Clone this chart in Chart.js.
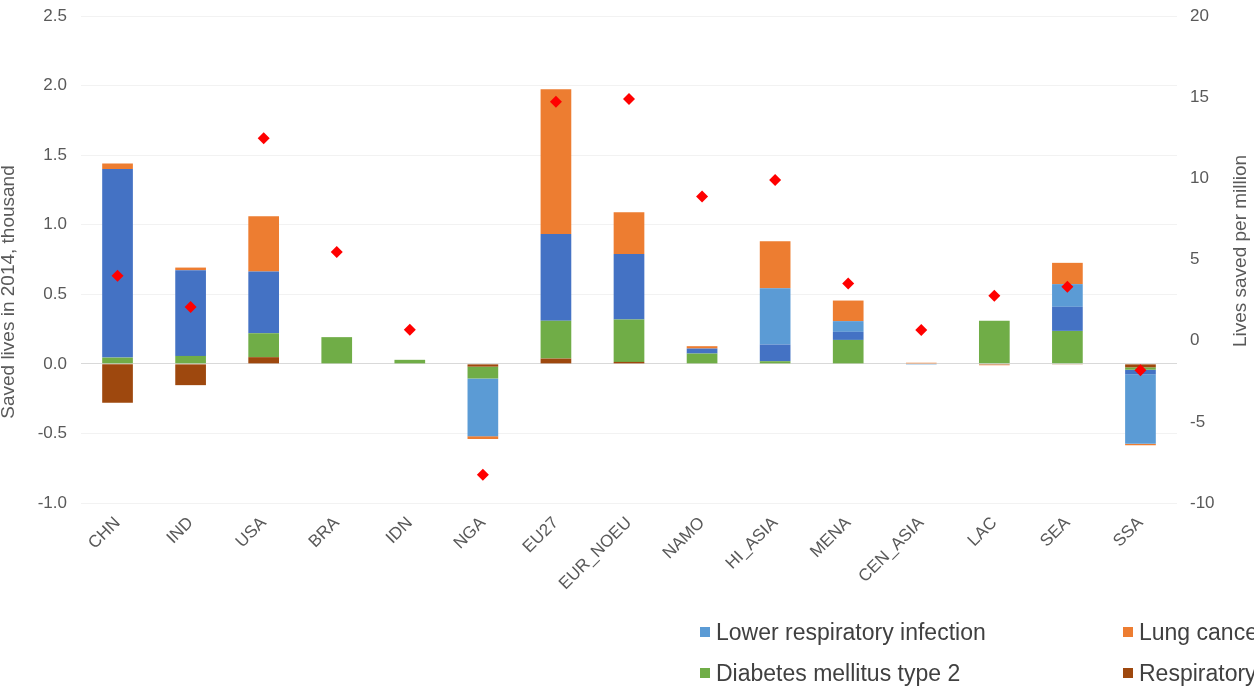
<!DOCTYPE html>
<html>
<head>
<meta charset="utf-8">
<script src="https://cdn.jsdelivr.net/npm/chart.js@4.4.1/dist/chart.umd.min.js"></script>
<style>
  html, body { margin: 0; padding: 0; background: #ffffff; overflow: hidden; }
  #wrap { position: relative; width: 1254px; height: 688px; overflow: hidden; }
  #legend { position: absolute; left: 0; top: 0; width: 1254px; height: 688px; pointer-events: none; }
  .item { position: absolute; display: flex; align-items: center; white-space: nowrap;
          font-family: "Liberation Sans", Arial, sans-serif; font-size: 23px; color: #404040; }
  .swatch { width: 10px; height: 10px; margin-right: 6px; flex: none; }
</style>
</head>
<body>
<div id="wrap">
  <canvas id="chart" width="1254" height="688"></canvas>
  <div id="legend"></div>
</div>
<script>
// Regions
const regions = ['CHN', 'IND', 'USA', 'BRA', 'IDN', 'NGA', 'EU27', 'EUR_NOEU', 'NAMO',
                 'HI_ASIA', 'MENA', 'CEN_ASIA', 'LAC', 'SEA', 'SSA'];

// Saved lives in 2014 by cause, thousand
const respiratory = [-0.28, -0.153, 0.048, 0, 0, -0.02, 0.038, 0.014, 0, 0, 0, 0, -0.006, -0.005, -0.025];
const diabetes    = [0.045, 0.057, 0.172, 0.192, 0.029, -0.085, 0.271, 0.304, 0.074, 0.019, 0.172, 0, 0.309, 0.237, -0.017];
const cardio      = [1.355, 0.616, 0.443, 0, 0, 0, 0.625, 0.472, 0.036, 0.12, 0.058, 0, 0, 0.173, -0.033];
const lowerResp   = [0, 0, 0, 0, 0, -0.415, 0, 0, 0, 0.405, 0.077, -0.006, 0, 0.163, -0.50];
const lungCancer  = [0.04, 0.019, 0.398, 0, 0, -0.02, 1.039, 0.30, 0.017, 0.337, 0.148, 0.008, -0.004, 0.153, -0.01];

// Lives saved per million inhabitants
const perMillion  = [4.0, 2.07, 12.47, 5.46, 0.67, -8.26, 14.71, 14.88, 8.88, 9.89, 3.52, 0.65, 2.76, 3.32, -1.83];

// Axis ticks
const leftTicks  = [-1.0, -0.5, 0.0, 0.5, 1.0, 1.5, 2.0, 2.5];
const rightTicks = [-10, -5, 0, 5, 10, 15, 20];

const FONT = '"Liberation Sans", Arial, sans-serif';
const TEXT = '#595959';

function barSet(label, data, color) {
  return { type: 'bar', label, data, backgroundColor: color, borderWidth: 0,
           yAxisID: 'y', stack: 'causes', order: 2,
           barPercentage: 0.42, categoryPercentage: 1.0 };
}

const datasets = [
  barSet('Respiratory diseases', respiratory, '#9E480E'),
  barSet('Diabetes mellitus type 2', diabetes, '#70AD47'),
  barSet('Cardiovascular diseases', cardio, '#4472C4'),
  barSet('Lower respiratory infection', lowerResp, '#5B9BD5'),
  barSet('Lung cancer', lungCancer, '#ED7D31'),
  { type: 'line', label: 'Lives saved per million', data: perMillion, yAxisID: 'y1',
    showLine: false, order: 0, pointStyle: 'rectRot', pointRadius: 6, pointHoverRadius: 6,
    pointBackgroundColor: '#FF0000', pointBorderColor: '#FF0000', pointBorderWidth: 0 }
];

// Axis titles drawn reading bottom-to-top on both sides
const axisTitles = {
  id: 'axisTitles',
  afterDraw(chart) {
    const ctx = chart.ctx;
    ctx.save();
    ctx.fillStyle = TEXT;
    ctx.font = '19px ' + FONT;
    ctx.textAlign = 'center';
    ctx.textBaseline = 'middle';
    ctx.translate(9, 292);
    ctx.rotate(-Math.PI / 2);
    ctx.fillText('Saved lives in 2014, thousand', 0, 0);
    ctx.restore();
    ctx.save();
    ctx.fillStyle = TEXT;
    ctx.font = '19px ' + FONT;
    ctx.textAlign = 'center';
    ctx.textBaseline = 'middle';
    ctx.translate(1241, 251);
    ctx.rotate(-Math.PI / 2);
    ctx.fillText('Lives saved per million', 0, 0);
    ctx.restore();
  }
};

// Fixed axis sizes; vertical axes add no extra edge padding
function fitVertical(width) {
  return s => { s.width = width; s.paddingTop = 0; s.paddingBottom = 0; };
}

new Chart(document.getElementById('chart'), {
  data: { labels: regions, datasets },
  options: {
    responsive: false,
    animation: false,
    layout: { padding: { top: 16, left: 0, right: 0, bottom: 0 } },
    plugins: { legend: { display: false }, tooltip: { enabled: false } },
    scales: {
      x: {
        stacked: true,
        grid: { display: false },
        border: { display: false },
        ticks: { font: { family: FONT, size: 17 }, color: TEXT, minRotation: 45, maxRotation: 45, padding: 2 },
        afterFit(s) { s.height = 185; s.paddingLeft = 0; s.paddingRight = 0; }
      },
      y: {
        position: 'left', stacked: true, min: -1, max: 2.5,
        afterBuildTicks(s) { s.ticks = leftTicks.map(v => ({ value: v })); },
        ticks: { font: { family: FONT, size: 17 }, color: TEXT, padding: 14,
                 callback: v => Number(v).toFixed(1) },
        grid: { drawTicks: false, lineWidth: 1,
                color: c => (c.tick && c.tick.value === 0) ? '#d9d9d9' : '#f2f2f2' },
        border: { display: false },
        afterFit: fitVertical(81)
      },
      y1: {
        position: 'right', min: -10, max: 20,
        afterBuildTicks(s) { s.ticks = rightTicks.map(v => ({ value: v })); },
        ticks: { font: { family: FONT, size: 17 }, color: TEXT, padding: 13 },
        grid: { drawOnChartArea: false, drawTicks: false },
        border: { display: false },
        afterFit: fitVertical(77)
      }
    }
  },
  plugins: [axisTitles]
});

// Legend: two columns, filled row by row
const legendOrder = [3, 4, 1, 0, 2];
const colX = [700, 1123];
const rowY = [632, 673, 714];
const legendEl = document.getElementById('legend');
legendOrder.forEach((di, i) => {
  const ds = datasets[di];
  const el = document.createElement('div');
  el.className = 'item';
  el.style.left = colX[i % 2] + 'px';
  el.style.top = (rowY[Math.floor(i / 2)] - 14) + 'px';
  el.style.height = '28px';
  el.innerHTML = '<span class="swatch" style="background:' + ds.backgroundColor + '"></span>' + ds.label;
  legendEl.appendChild(el);
});
</script>
</body>
</html>
